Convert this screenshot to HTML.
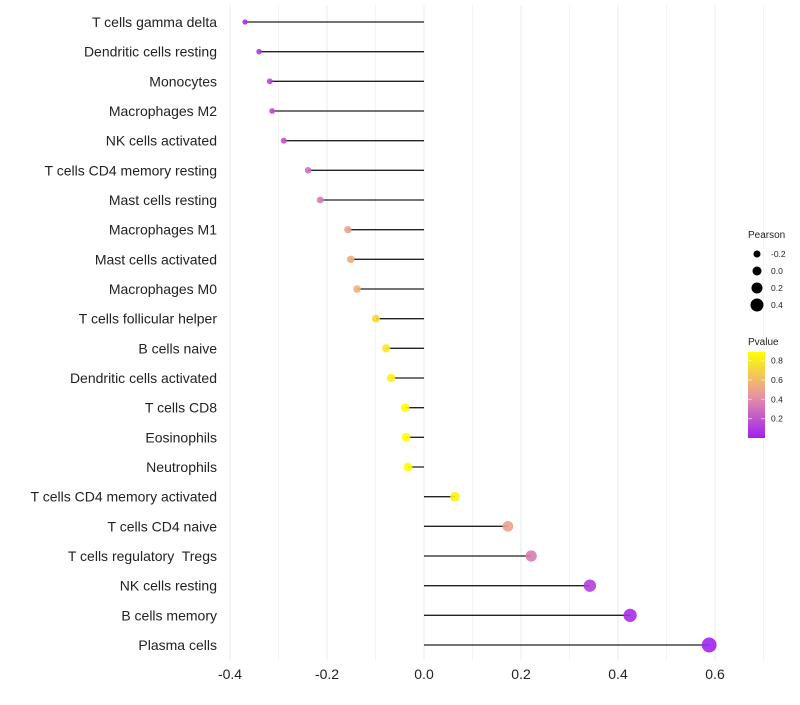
<!DOCTYPE html>
<html><head><meta charset="utf-8"><style>
body{margin:0;background:#fff;font-family:"Liberation Sans",sans-serif}
svg text{white-space:pre}
</style></head><body>
<svg id="c" width="800" height="700" xmlns="http://www.w3.org/2000/svg"></svg>
<script>
const categories=["T cells gamma delta","Dendritic cells resting","Monocytes","Macrophages M2","NK cells activated","T cells CD4 memory resting","Mast cells resting","Macrophages M1","Mast cells activated","Macrophages M0","T cells follicular helper","B cells naive","Dendritic cells activated","T cells CD8","Eosinophils","Neutrophils","T cells CD4 memory activated","T cells CD4 naive","T cells regulatory  Tregs","NK cells resting","B cells memory","Plasma cells"];
const pearson=[-0.369,-0.340,-0.318,-0.313,-0.289,-0.239,-0.214,-0.157,-0.151,-0.138,-0.099,-0.078,-0.068,-0.039,-0.037,-0.033,0.064,0.173,0.221,0.342,0.425,0.588];
const pvalue=[0.05,0.1,0.15,0.17,0.2,0.3,0.35,0.5,0.55,0.57,0.75,0.8,0.85,0.95,0.95,0.96,0.85,0.5,0.35,0.12,0.05,0.01];
const xTicks=[-0.4,-0.2,0,0.2,0.4,0.6];
const sizeLegend=[-0.2,0,0.2,0.4];
const colorTicks=[0.2,0.4,0.6,0.8];
const svg=document.getElementById('c');const NS='http://www.w3.org/2000/svg';
function mk(t,a,p){const e=document.createElementNS(NS,t);for(const k in a)e.setAttribute(k,a[k]);(p||svg).appendChild(e);return e;}
const X=v=>424+v*485;
const Y=i=>22+i*(623/21);
const R=v=>4.5+5*v;
function lerp(a,b,t){return a.map((x,i)=>Math.round(x+(b[i]-x)*t));}
function col(p){const t=Math.max(0,Math.min(1,p/0.9));const lo=[160,32,240],mid=[232,150,160],hi=[255,255,0];const c=t<0.5?lerp(lo,mid,t*2):lerp(mid,hi,(t-0.5)*2);return `rgb(${c})`;}
for(let v=-0.4;v<=0.75;v+=0.1){const g=mk('line',{x1:X(v),x2:X(v),y1:5,y2:660,stroke:'#ebebeb','stroke-width':Math.abs(Math.round(v*10))%2==0?1:0.6});

}
xTicks.forEach(t=>{const e=mk('text',{x:X(t),y:679,'text-anchor':'middle','font-size':14,fill:'#222'});e.textContent=t==0?'0.0':t.toFixed(1);

});
categories.forEach((c,i)=>{const y=Y(i);
const l=mk('text',{x:217,y:y+5,'text-anchor':'end','font-size':14,fill:'#222'});l.textContent=c;


const s=mk('line',{x1:X(0),x2:X(pearson[i]),y1:y,y2:y,stroke:'#222','stroke-width':1.3});


const d=mk('circle',{cx:X(pearson[i]),cy:y,r:R(pearson[i]),fill:col(pvalue[i]),'fill-opacity':0.9});

});
const t1=mk('text',{x:748,y:238,'font-size':10,fill:'#222'});t1.textContent='Pearson';


sizeLegend.forEach((v,i)=>{const y=254+i*17;const c=mk('circle',{cx:757,cy:y,r:R(v),fill:'#000'});


const t=mk('text',{x:771,y:y+3,'font-size':8.5,fill:'#222'});t.textContent=v.toFixed(1);

});
const t2=mk('text',{x:748,y:345,'font-size':10,fill:'#222'});t2.textContent='Pvalue';


const defs=mk('defs',{});const lg=mk('linearGradient',{id:'g',x1:0,y1:1,x2:0,y2:0},defs);
for(let k=0;k<=10;k++){mk('stop',{offset:k/10,'stop-color':col(k/10*0.9)},lg);}
const bar=mk('rect',{x:748,y:352,width:17,height:86,fill:'url(#g)'});


const CY=p=>438-p*96.7;
colorTicks.forEach(p=>{const t=mk('text',{x:771,y:CY(p)+3,'font-size':8.5,fill:'#222'});t.textContent=p.toFixed(1);


mk('line',{x1:748,x2:752,y1:CY(p),y2:CY(p),stroke:'#fff','stroke-opacity':0.6});mk('line',{x1:761,x2:765,y1:CY(p),y2:CY(p),stroke:'#fff','stroke-opacity':0.6});});
</script>
</body></html>
